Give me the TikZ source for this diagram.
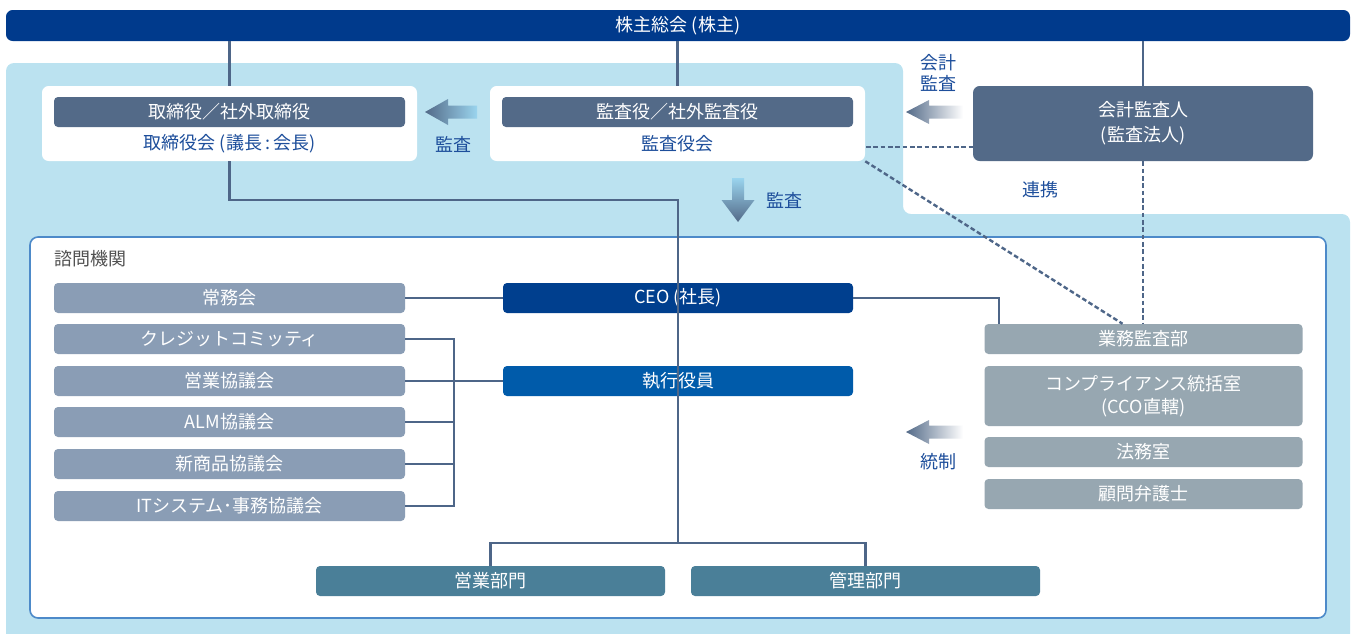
\documentclass[tikz,border=0pt]{standalone}
\usepackage{fontspec}
\setmainfont{Noto Sans CJK JP}
\usetikzlibrary{calc}
\definecolor{topblue}{HTML}{003A8C}
\definecolor{bglight}{HTML}{BBE2F0}
\definecolor{slate}{HTML}{536A88}
\definecolor{txtblue}{HTML}{1D4E9B}
\definecolor{advgray}{HTML}{8A9DB5}
\definecolor{rgray}{HTML}{97A7B1}
\definecolor{ceoblue}{HTML}{003F8E}
\definecolor{execblue}{HTML}{005BAA}
\definecolor{deptteal}{HTML}{4A7F98}
\definecolor{linec}{HTML}{4E6688}
\definecolor{framec}{HTML}{4D8AC9}
\definecolor{tailblue}{HTML}{9AD4EE}
\definecolor{darkgray}{HTML}{505050}
\tikzset{
  box/.style={rectangle, rounded corners=3pt, inner sep=0pt, text=white, minimum height=30*0.75pt, align=center},
  advbox/.style={box, fill=advgray, minimum width=351*0.75pt},
  rbox/.style={box, fill=rgray, minimum width=318*0.75pt},
  barbox/.style={box, fill=slate, minimum width=351*0.75pt},
  wbox/.style={rectangle, rounded corners=5pt, fill=white, minimum width=375*0.75pt, minimum height=75*0.75pt, inner sep=0pt},
  conn/.style={draw=linec, line width=1.7pt},
  dline/.style={draw=linec, line width=1.8pt, dash pattern=on 3.5pt off 2pt},
  lbl/.style={text=txtblue, inner sep=0pt, align=center},
}
\begin{document}
\begin{tikzpicture}[x=0.75pt,y=-0.75pt,font=\fontsize{13.5}{17}\selectfont]
\useasboundingbox (0,0) rectangle (1351,633);
% light blue background
\fill[bglight, rounded corners=6pt] (6,650) -- (6,63) -- (903,63) -- (903,214) -- (1350,214) -- (1350,650) -- cycle;
% top bar
\node[box, fill=topblue, rounded corners=5pt, minimum width=1344*0.75pt, minimum height=31*0.75pt] (gm) at (678,25.5) {株主総会 (株主)};
% board
\node[wbox] (boardbg) at (229.5,123.5) {};
\node[barbox] (boardbar) at (229.5,112) {取締役／社外取締役};
\node[lbl] (boardtxt) at (229.5,144) {取締役会 (議長\,:\,会長)};
% auditors
\node[wbox] (audbg) at (677.5,123.5) {};
\node[barbox] (audbar) at (677.5,112) {監査役／社外監査役};
\node[lbl] (audtxt) at (677.5,144) {監査役会};
% accounting auditor
\node[box, fill=slate, rounded corners=5pt, minimum width=340*0.75pt, minimum height=75*0.75pt, font=\fontsize{13.5}{18.75}\selectfont] (acc) at (1143,123.5) {会計監査人\\(監査法人)};
% inner frame
\node[rectangle, draw=framec, line width=1.2pt, fill=white, rounded corners=6pt, minimum width=1296*0.75pt, minimum height=381*0.75pt, inner sep=0pt] (advframe) at (678,427.5) {};
\node[anchor=west, text=darkgray, inner sep=0pt] (advlbl) at (54,259) {諮問機関};
% advisory boxes
\node[advbox] (jomu) at (229.5,298) {常務会};
\node[advbox] (credit) at (229.5,339) {クレジットコミッティ};
\node[advbox] (eigyo) at (229.5,381) {営業協議会};
\node[advbox] (alm) at (229.5,422) {ALM協議会};
\node[advbox] (newp) at (229.5,464) {新商品協議会};
\node[advbox] (itsys) at (229.5,506) {ITシステム･事務協議会};
% executive
\node[box, fill=ceoblue, minimum width=350*0.75pt] (ceo) at (678,298) {CEO (社長)};
\node[box, fill=execblue, minimum width=350*0.75pt] (exec) at (678,381) {執行役員};
% right boxes
\node[rbox] (audit) at (1143.5,339) {業務監査部};
\node[rbox, minimum height=60*0.75pt, font=\fontsize{13.5}{17.25}\selectfont] (comp) at (1143.5,396) {コンプライアンス統括室\\(CCO直轄)};
\node[rbox] (legal) at (1143.5,452) {法務室};
\node[rbox] (lawyer) at (1143.5,494) {顧問弁護士};
% departments
\node[box, fill=deptteal, minimum width=349*0.75pt] (sales) at (490.5,581) {営業部門};
\node[box, fill=deptteal, minimum width=349*0.75pt] (mgmt) at (865.5,581) {管理部門};
% coordinates
\coordinate (j1) at (678,200);
\coordinate (j2) at (678,543);
\coordinate (bkt) at (454,0);
\coordinate (c1) at (999,0);
\coordinate (d1) at (866,147);
% connectors
\draw[conn] (boardbg.north |- gm.south) -- (boardbg.north);
\draw[conn] (audbg.north |- gm.south) -- (audbg.north);
\draw[conn] (acc.north |- gm.south) -- (acc.north);
\draw[conn] (boardbg.south) |- (j1) -- (j2);
\draw[conn] (sales.north) |- (j2) -| (mgmt.north);
\draw[conn] (jomu.east) -- (ceo.west);
\draw[conn] (eigyo.east) -- (exec.west);
\draw[conn] (credit.east) -| (bkt |- itsys.east) -- (itsys.east);
\draw[conn] (alm.east) -- (alm.east -| bkt);
\draw[conn] (newp.east) -- (newp.east -| bkt);
\draw[conn] (ceo.east) -| (c1 |- audit.north);
% dashed
\draw[dline] (d1) -- (d1 -| acc.west);
\draw[dline] (audbg.south east) -- ([xshift=-21*0.75pt]audit.north);
\draw[dline] (acc.south) -- (acc.south |- audit.north);
% arrows
\shade[left color=slate, right color=tailblue] (425,112) -- ++(23,-13) -- ++(0,6.5) -- ++(29,0) -- ++(0,13) -- ++(-29,0) -- ++(0,6.5) -- cycle;
\shade[left color=slate, right color=white] (906,112) -- ++(23,-12) -- ++(0,5.5) -- ++(34,0) -- ++(0,13) -- ++(-34,0) -- ++(0,5.5) -- cycle;
\shade[left color=slate, right color=white] (906,432) -- ++(23,-12) -- ++(0,5.5) -- ++(34,0) -- ++(0,13) -- ++(-34,0) -- ++(0,5.5) -- cycle;
\shade[top color=tailblue, bottom color=slate] (738,222) -- ++(-16.5,-22) -- ++(10.5,0) -- ++(0,-22) -- ++(12,0) -- ++(0,22) -- ++(10.5,0) -- cycle;
% labels
\node[lbl] (l1) at (453,144) {監査};
\node[lbl, font=\fontsize{13.5}{15.75}\selectfont] (l2) at (938,72.5) {会計\\監査};
\node[lbl] (l3) at (784,200) {監査};
\node[lbl] (l4) at (1040,190) {連携};
\node[lbl] (l5) at (938,462) {統制};
\end{tikzpicture}
\end{document}
